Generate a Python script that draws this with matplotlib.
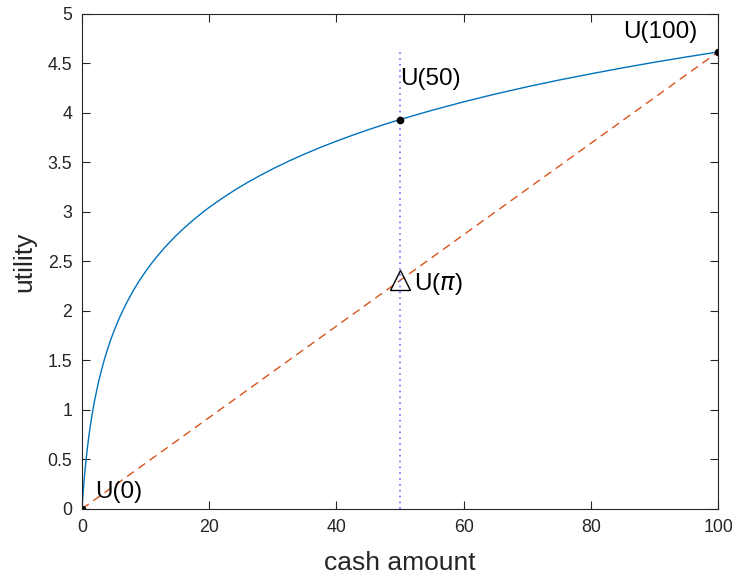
import numpy as np
import matplotlib
matplotlib.use('Agg')
import matplotlib.pyplot as plt

plt.rcParams['font.family'] = ['Liberation Sans', 'DejaVu Sans']

# utility curve
cash = [0, 0.05, 0.1, 0.2, 0.3, 0.4, 0.5, 0.6, 0.8, 1, 1.25, 1.5, 1.75, 2, 2.5,
        3, 3.5, 4, 4.5, 5, 6, 7, 8, 9, 10, 11, 12, 13, 14, 15, 16, 17, 18, 19,
        20, 22, 24, 26, 28, 30, 32.5, 35, 37.5, 40, 42.5, 45, 47.5, 50, 55, 60,
        65, 70, 75, 80, 85, 90, 95, 100]
utility = [0, 0.049, 0.095, 0.182, 0.262, 0.336, 0.405, 0.470, 0.588, 0.693,
           0.811, 0.916, 1.012, 1.099, 1.253, 1.386, 1.504, 1.609, 1.705, 1.792,
           1.946, 2.079, 2.197, 2.303, 2.398, 2.485, 2.565, 2.639, 2.708, 2.773,
           2.833, 2.890, 2.944, 2.996, 3.045, 3.135, 3.219, 3.296, 3.367, 3.434,
           3.512, 3.584, 3.651, 3.714, 3.773, 3.829, 3.882, 3.932, 4.025, 4.111,
           4.190, 4.263, 4.331, 4.394, 4.454, 4.511, 4.564, 4.615]

# points of interest
pts_x = [0, 50, 100]
pts_y = [0, 3.932, 4.615]
lottery_x = [0, 100]
lottery_y = [0, 4.615]
mid_x = 50
mid_y = 2.31

labels = ['U(0)', 'U(50)', r'U($\pi$)', 'U(100)']
label_x = [2, 50, 52.2, 85]
label_y = [0.17, 4.34, 2.27, 4.82]

fig = plt.figure(figsize=(7.32, 5.75), dpi=100)
ax = fig.add_axes([0.112, 0.115, 0.869, 0.861])

ax.plot(cash, utility, color='#0072BD', lw=1)
ax.plot(lottery_x, lottery_y, color='#D95319', lw=1, dashes=(6, 4))
ax.plot([mid_x, mid_x], [0, 4.62], color='#6e6eff', lw=1.2, ls=(0, (1, 2.5)))
ax.plot(pts_x, pts_y, 'o', color='black', ms=4.5)
ax.plot([mid_x], [mid_y], '^', mfc='none', mec='black', ms=14, mew=1)

for t, x, y in zip(labels, label_x, label_y):
    ax.text(x, y, t, fontsize=17.5, va='center', ha='left', color='black')

ax.set_xlim(0, 100)
ax.set_ylim(0, 5)
ax.set_xticks([0, 20, 40, 60, 80, 100])
ax.set_yticks(np.arange(0, 5.01, 0.5))
ax.set_yticklabels(['0', '0.5', '1', '1.5', '2', '2.5', '3', '3.5', '4', '4.5', '5'])
ax.tick_params(direction='in', length=6, width=0.8, top=True, right=True,
               labelsize=12.8, colors='#262626', pad=7)
for s in ax.spines.values():
    s.set_color('#262626')
    s.set_linewidth(0.8)

ax.set_xlabel('cash amount', fontsize=19, color='#262626', labelpad=11)
ax.set_ylabel('utility', fontsize=19, color='#262626', labelpad=8)

plt.savefig('out.png', dpi=100)
